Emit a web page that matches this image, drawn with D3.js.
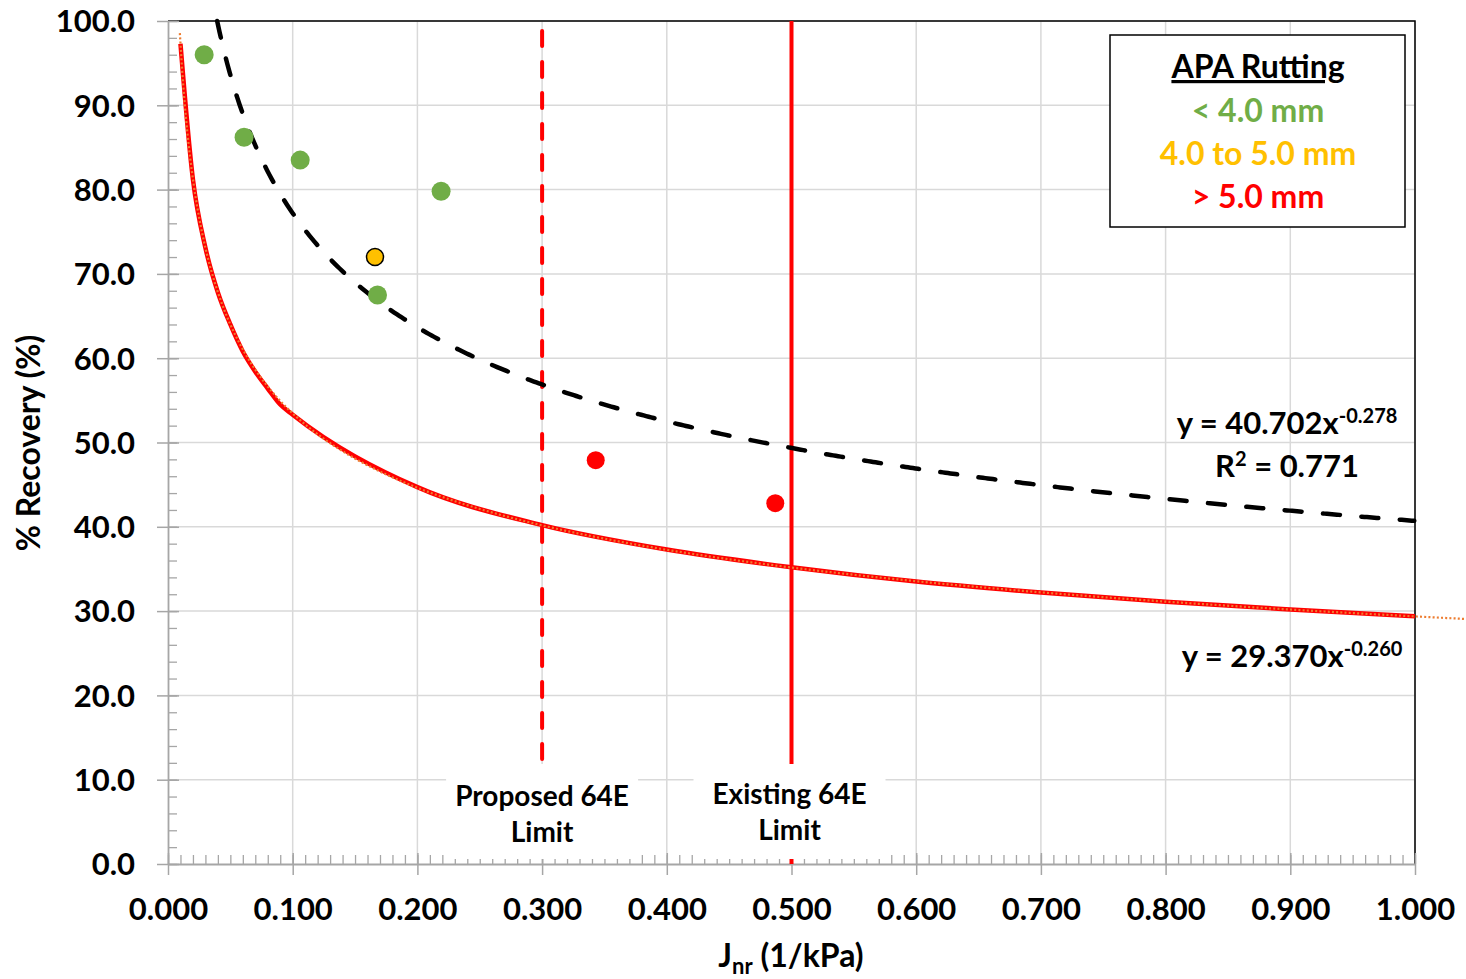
<!DOCTYPE html>
<html><head><meta charset="utf-8">
<script src="https://cdn.jsdelivr.net/npm/d3@7"></script>
<style>
html,body{margin:0;padding:0;background:#fff;}
svg{display:block;}
text{font-family:Lato, "Open Sans", sans-serif;font-weight:700;}
</style></head>
<body>
<svg id="chart" width="1466" height="979"></svg>
<script>
// ---- data ----
const xTicks = [0, 0.1, 0.2, 0.3, 0.4, 0.5, 0.6, 0.7, 0.8, 0.9, 1.0];
const yTicks = [0, 10, 20, 30, 40, 50, 60, 70, 80, 90, 100];
const greenX = [0.029, 0.061, 0.106, 0.168, 0.219];
const greenY = [96.0, 86.2, 83.5, 67.5, 79.8];
const yellowX = [0.166];
const yellowY = [72.0];
const redX = [0.343, 0.487];
const redY = [47.9, 42.8];
// red reference curve
const curveX = [0.010, 0.020, 0.030, 0.040, 0.050, 0.060, 0.070, 0.080, 0.090, 0.100, 0.200, 0.300, 0.400, 0.500, 0.600, 0.700, 0.800, 0.900, 1.000];
const curveY = [97.3, 81.2, 73.1, 67.8, 64.0, 60.8, 58.4, 56.4, 54.5, 53.3, 44.7, 40.2, 37.3, 35.2, 33.5, 32.2, 31.1, 30.2, 29.4];
// trendline equations
const blackA = 40.702, blackB = -0.278;
const orangeA = 29.370, orangeB = -0.260;
const limitProposed = 0.300, limitExisting = 0.500;
const legendTitle = "APA Rutting";
const legendItems = ["< 4.0 mm", "4.0 to 5.0 mm", "> 5.0 mm"];
const legendColors = ["#70AD47", "#FFC000", "#FF0000"];

// ---- layout ----
const svg = d3.select("#chart");
const x = d3.scaleLinear().domain([0, 1]).range([168, 1415]);
const y = d3.scaleLinear().domain([0, 100]).range([864, 21]);
const grid = "#D9D9D9", axisCol = "#A6A6A6";

// gridlines
svg.append("g").selectAll("line").data(xTicks.slice(1)).join("line")
  .attr("x1", d => x(d)).attr("x2", d => x(d)).attr("y1", y(100)).attr("y2", y(0))
  .attr("stroke", grid).attr("stroke-width", 1.5);
svg.append("g").selectAll("line").data(yTicks.slice(1)).join("line")
  .attr("x1", x(0)).attr("x2", x(1)).attr("y1", d => y(d)).attr("y2", d => y(d))
  .attr("stroke", grid).attr("stroke-width", 1.5);

// plot border (top & right)
svg.append("path").attr("d", `M${x(0)},${y(100)}H${x(1)}V${y(0)}`)
  .attr("fill", "none").attr("stroke", "#000").attr("stroke-width", 1.5);

// axes
const yAxisMinor = d3.axisRight(y).tickValues(d3.range(0, 100.01, 2)).tickSize(9).tickFormat("");
const gyMinor = svg.append("g").attr("transform", `translate(${x(0)},0)`).call(yAxisMinor);
const xAxisMinor = d3.axisTop(x).tickValues(d3.range(0, 1.0001, 0.01)).tickSize(9).tickFormat("");
const gxMinor = svg.append("g").attr("transform", `translate(0,${y(0)})`).call(xAxisMinor);
[gyMinor, gxMinor].forEach(g => { g.select(".domain").remove(); g.selectAll("line").attr("stroke", axisCol).attr("stroke-width", 1.3); });

const yAxis = d3.axisLeft(y).tickValues(yTicks).tickSizeInner(11).tickSizeOuter(0).tickFormat(d3.format(".1f")).tickPadding(22);
const gy = svg.append("g").attr("transform", `translate(${x(0)},0)`).call(yAxis);
gy.selectAll(".tick line").attr("x2", 11).attr("x1", -11);
const xAxis = d3.axisBottom(x).tickValues(xTicks).tickSizeInner(11).tickSizeOuter(0).tickFormat(d3.format(".3f")).tickPadding(26);
const gx = svg.append("g").attr("transform", `translate(0,${y(0)})`).call(xAxis);
gx.selectAll(".tick line").attr("y1", -11).attr("y2", 11);
[gy, gx].forEach(g => {
  g.select(".domain").attr("stroke", axisCol).attr("stroke-width", 1.8);
  g.selectAll(".tick line").attr("stroke", axisCol).attr("stroke-width", 1.5);
  g.selectAll(".tick text").attr("fill", "#000").style("font-size", "31px").style("font-family", "Lato").style("font-weight", 700);
});
gy.selectAll(".tick text").attr("x", -33).attr("dy", "0.35em");
gx.selectAll(".tick text").attr("y", 56).attr("dy", 0);

// limit lines
svg.append("line").attr("x1", x(limitProposed)).attr("x2", x(limitProposed))
  .attr("y1", y(100) + 10).attr("y2", y(0))
  .attr("stroke", "#FF0000").attr("stroke-width", 4).attr("stroke-dasharray", "15,16").attr("stroke-linecap", "round");
svg.append("line").attr("x1", x(limitExisting)).attr("x2", x(limitExisting))
  .attr("y1", y(100)).attr("y2", y(0))
  .attr("stroke", "#FF0000").attr("stroke-width", 4);

// red curve
const curvePts = curveX.map((d, i) => [d, curveY[i]]);
svg.append("path").datum(curvePts)
  .attr("d", d3.line().x(d => x(d[0])).y(d => y(d[1])).curve(d3.curveMonotoneX))
  .attr("fill", "none").attr("stroke", "#FF0000").attr("stroke-width", 4.5);

// orange dotted power trendline
const oX = d3.range(0.0095, 1.06, 0.002);
svg.append("path").datum(oX.map(v => [v, orangeA * Math.pow(v, orangeB)]))
  .attr("d", d3.line().x(d => x(d[0])).y(d => y(d[1])))
  .attr("fill", "none").attr("stroke", "#ED7D31").attr("stroke-width", 2.2).attr("stroke-dasharray", "2,2.2");

// black dashed power trendline
const xStart = Math.pow(100 / blackA, 1 / blackB);
const bX = d3.range(xStart, 1.0001, 0.002);
svg.append("path").datum(bX.map(v => [v, blackA * Math.pow(v, blackB)]))
  .attr("d", d3.line().x(d => x(d[0])).y(d => y(d[1])))
  .attr("fill", "none").attr("stroke", "#000").attr("stroke-width", 4.5)
  .attr("stroke-dasharray", "17,21.5").attr("stroke-linecap", "round");

// points
svg.append("g").selectAll("circle").data(greenX.map((d, i) => [d, greenY[i]])).join("circle")
  .attr("cx", d => x(d[0])).attr("cy", d => y(d[1])).attr("r", 9.5).attr("fill", "#70AD47");
svg.append("g").selectAll("circle").data(yellowX.map((d, i) => [d, yellowY[i]])).join("circle")
  .attr("cx", d => x(d[0])).attr("cy", d => y(d[1])).attr("r", 8.5).attr("fill", "#FFC000")
  .attr("stroke", "#000").attr("stroke-width", 1.5);
svg.append("g").selectAll("circle").data(redX.map((d, i) => [d, redY[i]])).join("circle")
  .attr("cx", d => x(d[0])).attr("cy", d => y(d[1])).attr("r", 9).attr("fill", "#FF0000");

// limit labels
function limitLabel(cx, lines, boxW, dyTop) {
  svg.append("rect").attr("x", cx - boxW / 2).attr("y", 764).attr("width", boxW).attr("height", 95).attr("fill", "#fff");
  const t = svg.append("text").attr("text-anchor", "middle").style("font-size", "28px").attr("fill", "#000");
  lines.forEach((l, i) => t.append("tspan").attr("x", cx).attr("y", dyTop + i * 36).text(l));
}
limitLabel(x(limitProposed), ["Proposed 64E", "Limit"], 192, 806);
limitLabel(x(limitExisting) - 2, ["Existing 64E", "Limit"], 192, 804);

// legend
svg.append("rect").attr("x", 1110).attr("y", 35).attr("width", 295).attr("height", 192)
  .attr("fill", "#fff").attr("stroke", "#000").attr("stroke-width", 1.5);
svg.append("text").attr("x", 1258).attr("y", 78).attr("text-anchor", "middle")
  .style("font-size", "32px").style("text-decoration", "underline").attr("fill", "#000").text(legendTitle);
legendItems.forEach((s, i) => {
  svg.append("text").attr("x", 1258).attr("y", 122 + i * 43).attr("text-anchor", "middle")
    .style("font-size", "32px").attr("fill", legendColors[i]).text(s);
});

// equation labels
function eqn(cx, yb, a, b) {
  const t = svg.append("text").attr("x", cx).attr("y", yb).attr("text-anchor", "middle").style("font-size", "31px").attr("fill", "#000");
  t.append("tspan").text(`y = ${a.toFixed(3)}x`);
  t.append("tspan").attr("dy", -11).style("font-size", "20px").text(b.toFixed(3));
}
eqn(1287, 434, blackA, blackB);
const r2 = svg.append("text").attr("x", 1287).attr("y", 477).attr("text-anchor", "middle").style("font-size", "31px").attr("fill", "#000");
r2.append("tspan").text("R");
r2.append("tspan").attr("dy", -11).style("font-size", "20px").text("2");
r2.append("tspan").attr("dy", 11).text(" = 0.771");
eqn(1292, 667, orangeA, orangeB);

// axis titles
svg.append("text").attr("transform", "translate(40,443) rotate(-90)").attr("text-anchor", "middle")
  .style("font-size", "32px").attr("fill", "#000").text("% Recovery (%)");
const xt = svg.append("text").attr("x", 791).attr("y", 967).attr("text-anchor", "middle").style("font-size", "32px").attr("fill", "#000");
xt.append("tspan").text("J");
xt.append("tspan").attr("dy", 7).style("font-size", "22px").text("nr");
xt.append("tspan").attr("dy", -7).text(" (1/kPa)");
</script>
</body></html>
